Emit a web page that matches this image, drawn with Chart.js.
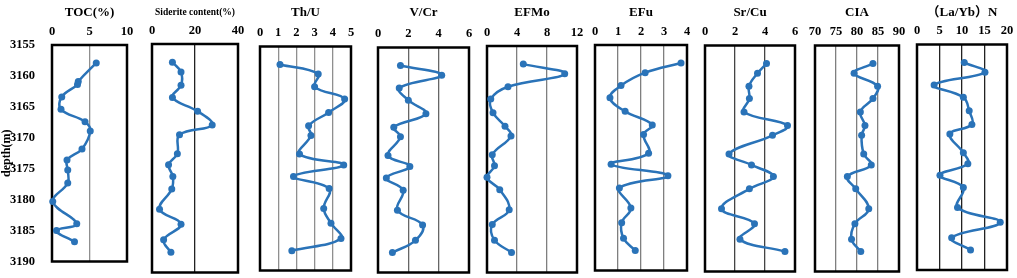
<!DOCTYPE html>
<html>
<head>
<meta charset="utf-8">
<script src="https://cdn.jsdelivr.net/npm/chart.js@4.4.1/dist/chart.umd.min.js"></script>
<style>
  body { margin: 0; background: #fff; }
  #wrap { position: relative; width: 1017px; height: 278px; overflow: hidden; }
  .panel { position: absolute; top: 0; height: 278px; }
  .panel canvas { display: block; }
</style>
</head>
<body>
<div id="wrap"></div>
<script>
// sample depths (m); the TOC curve was sampled at slightly different depths
const depth = [3157.8, 3159.3, 3161.3, 3163.2, 3165.3, 3167.4, 3168.9, 3171.8, 3173.5, 3175.3, 3177.2, 3180.3, 3182.6, 3185.0, 3186.9]
const tocDepth = [3157.9, 3160.9, 3161.4, 3163.4, 3165.4, 3167.4, 3168.9, 3171.8, 3173.6, 3175.2, 3177.3, 3180.3, 3183.9, 3185.0, 3186.8]

const toc = [5.9, 3.5, 3.4, 1.3, 1.2, 4.4, 5.1, 4.0, 2.0, 2.1, 2.1, 0.1, 3.3, 0.6, 3.0]
const siderite = [9.5, 13.5, 13.5, 9.5, 21.2, 28.0, 12.8, 11.8, 7.7, 9.7, 9.2, 3.5, 13.5, 5.4, 8.8]
const thU = [1.1, 3.2, 3.0, 4.65, 3.77, 2.67, 2.8, 2.17, 4.6, 1.84, 3.8, 3.5, 3.9, 4.45, 1.75]
const vCr = [1.48, 4.2, 1.4, 2.0, 3.16, 1.04, 1.48, 0.66, 2.1, 0.55, 1.66, 1.28, 2.94, 2.47, 0.95]
const efMo = [4.84, 10.36, 2.8, 0.5, 0.8, 2.4, 3.2, 0.7, 1.0, 0.0, 1.7, 2.96, 0.7, 1.0, 3.27]
const efU = [3.74, 2.18, 1.13, 0.65, 1.31, 2.49, 2.11, 2.33, 0.7, 3.17, 1.06, 1.56, 1.16, 1.24, 1.75]
const srCu = [4.1, 3.5, 2.93, 2.96, 2.6, 5.5, 4.5, 1.6, 3.1, 4.56, 2.96, 1.1, 3.3, 2.33, 5.33]
const cia = [83.8, 79.3, 84.9, 83.8, 80.8, 81.9, 81.1, 81.6, 83.4, 77.7, 79.7, 82.8, 79.5, 78.7, 80.9]
const laYb = [10.5, 15.1, 3.8, 10.3, 11.6, 12.2, 7.3, 10.3, 11.3, 5.1, 10.3, 9.0, 18.5, 7.7, 11.9]

const series = [toc, siderite, thU, vCr, efMo, efU, srCu, cia, laYb]
const depths = [tocDepth, depth, depth, depth, depth, depth, depth, depth, depth]
const titles = ["TOC(%)", "Siderite content(%)", "Th/U", "V/Cr", "EFMo", "EFu", "Sr/Cu", "CIA", "（La/Yb）N"]
const xMin = [0, 0, 0, 0, 0, 0, 0, 70, 0]
const xMax = [10, 40, 5, 6, 12, 4, 6, 90, 20]
const xStep = [5, 20, 1, 2, 4, 1, 2, 5, 5]
const depthMin = 3155
const depthMax = 3190
const depthStep = 5

// plot frames: left, right, top, bottom (px)
const frames = [
  [52, 127, 45, 268],
  [152, 238, 44, 272.5],
  [260, 351, 46.5, 270.5],
  [378, 469, 47.5, 272.5],
  [487, 577, 46, 272.5],
  [595, 687, 45, 270.5],
  [705, 795, 45.5, 271.5],
  [815, 899, 45.5, 271.5],
  [917, 1007, 44.5, 270],
]
const gridColors = ["#8f8f8f", "#222", "#8f8f8f", "#666", "#7f7f7f", "#7f7f7f", "#444", "#7f7f7f", "#222"]

const serif = "'Liberation Serif', 'Times New Roman', 'Noto Sans CJK SC', serif"
const blue = "#2a73b8"

const framePlugin = {
  id: "frame",
  beforeDatasetsDraw(chart) {
    const a = chart.chartArea
    const ctx = chart.ctx
    ctx.save()
    ctx.strokeStyle = "#000"
    ctx.lineWidth = 2.5
    ctx.strokeRect(a.left, a.top, a.right - a.left, a.bottom - a.top)
    ctx.restore()
  },
}

const wrap = document.getElementById("wrap")
const side = 14

series.forEach((vals, i) => {
  const [fl, fr, ft, fb] = frames[i]
  const first = i === 0
  const left = first ? 0 : Math.round(fl - side)
  const width = Math.round(fr + side) - left

  const div = document.createElement("div")
  div.className = "panel"
  div.style.left = left + "px"
  div.style.width = width + "px"
  const canvas = document.createElement("canvas")
  canvas.width = width
  canvas.height = 278
  canvas.style.width = width + "px"
  canvas.style.height = "278px"
  div.appendChild(canvas)
  wrap.appendChild(div)

  new Chart(canvas, {
    type: "scatter",
    data: {
      datasets: [
        {
          data: depths[i].map((d, k) => ({ x: vals[k], y: d })),
          showLine: true,
          tension: 0.4,
          borderColor: blue,
          backgroundColor: blue,
          borderWidth: 2.5,
          pointRadius: 3.5,
          pointBorderWidth: 0,
          clip: false,
        },
      ],
    },
    plugins: [framePlugin],
    options: {
      responsive: false,
      maintainAspectRatio: false,
      animation: false,
      devicePixelRatio: 1,
      layout: {
        padding: {
          left: first ? 0 : fl - left,
          right: left + width - fr,
          top: 0,
          bottom: 278 - fb,
        },
      },
      plugins: { legend: { display: false }, tooltip: { enabled: false } },
      scales: {
        x: {
          type: "linear",
          position: "top",
          min: xMin[i],
          max: xMax[i],
          afterFit: (s) => { s.height = ft },
          ticks: {
            stepSize: xStep[i],
            autoSkip: false,
            maxRotation: 0,
            color: "#000",
            padding: 6,
            font: { family: serif, size: 12.5, weight: "bold" },
            callback: (v) => v,
          },
          grid: { color: gridColors[i], lineWidth: 1.3, drawTicks: false },
          border: { display: false },
          title: {
            display: true,
            text: titles[i],
            color: "#000",
            padding: { top: i === 1 ? 7 : 5, bottom: 0 },
            font: { family: serif, size: i === 1 ? 9.5 : 13, weight: "bold" },
          },
        },
        y: {
          type: "linear",
          display: first,
          reverse: true,
          min: depthMin,
          max: depthMax,
          afterFit: (s) => { if (first) s.width = fl },
          ticks: {
            stepSize: depthStep,
            autoSkip: false,
            color: "#000",
            padding: 9,
            font: { family: serif, size: 12.5, weight: "bold" },
            callback: (v) => v,
          },
          grid: { display: false },
          border: { display: false },
          title: {
            display: true,
            text: "depth(m)",
            color: "#000",
            padding: 0,
            font: { family: serif, size: 12, weight: "bold" },
          },
        },
      },
    },
  })
})
</script>
</body>
</html>
